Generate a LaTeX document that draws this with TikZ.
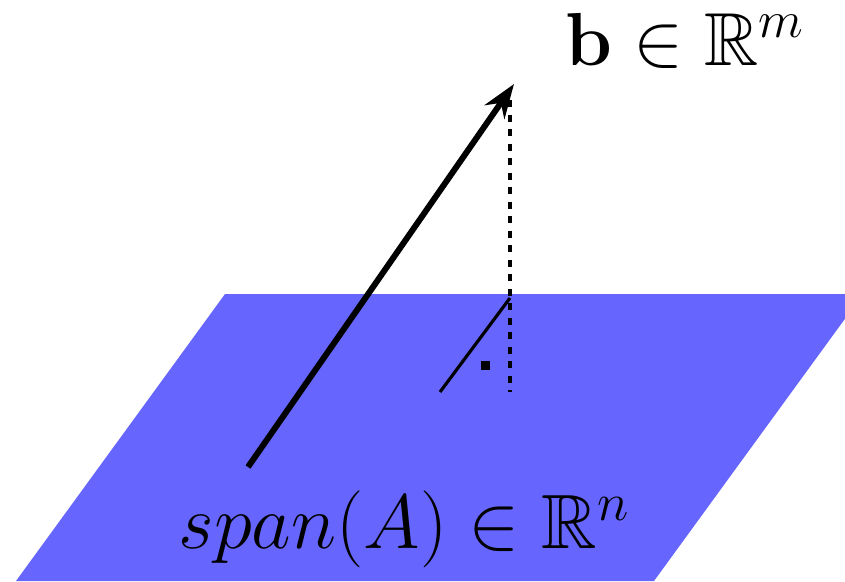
\documentclass[tikz,border=0pt]{standalone}
\usepackage{amsmath}
\usepackage{amssymb}
\usetikzlibrary{arrows.meta}

\begin{document}
\begin{tikzpicture}[x=0.01cm, y=0.01cm]

    \useasboundingbox (0,0) rectangle (845,581);

    % Plane
    \begin{scope}
        \clip (0,0) rectangle (845,581);
        \fill[blue!60] (16,0) -- (225,287) -- (863,287) -- (654,0) -- cycle;
    \end{scope}

    \coordinate (tail) at (248,114);
    \coordinate (tip) at (514,497);
    \coordinate (top) at (510,481);
    \coordinate (foot) at (510,283);
    \coordinate (bottom) at (510,189);
    \coordinate (inplane) at (440,189);

    % Vector b
    \draw[line width=1.7pt, -{Stealth[length=0.34cm, width=0.24cm]}] (tail) -- (tip);

    % Drop to the plane
    \draw[line width=1.1pt, dash pattern=on 0.07cm off 0.075cm] (top) -- (bottom);
    \draw[line width=0.9pt] (inplane) -- (foot);

    % Right angle mark
    \fill (480.5,211.5) rectangle (489.5,220.5);

    % Labels
    \node[anchor=base west, inner sep=0pt, scale=1.03, font=\fontsize{20.74}{25}\selectfont] (blabel)
        at (565,516) {$\mathbf{b} \in \mathbb{R}^m$};
    \node[anchor=base west, inner sep=0pt, scale=1.055, font=\fontsize{20.74}{25}\selectfont] (spanlabel)
        at (178,33) {$span(A) \in \mathbb{R}^n$};

\end{tikzpicture}
\end{document}
